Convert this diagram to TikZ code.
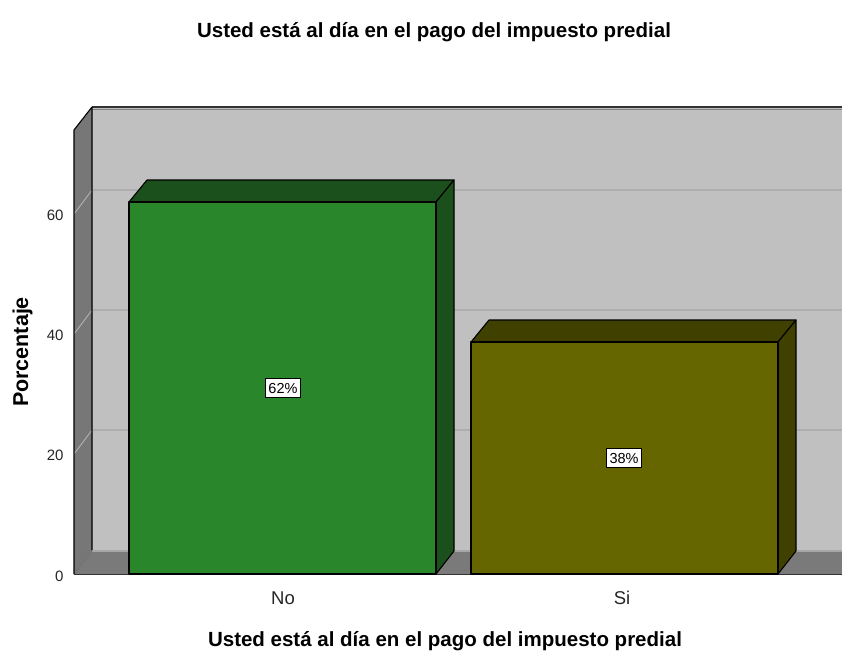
\documentclass[tikz,border=0pt]{standalone}
\usepackage{fontspec}
\setmainfont{Liberation Sans}
\definecolor{wallback}{HTML}{C0C0C0}
\definecolor{wallside}{HTML}{777777}
\definecolor{floorc}{HTML}{7A7A7A}
\definecolor{gridc}{HTML}{ADADAD}
\definecolor{nofront}{HTML}{2A862A}
\definecolor{noshade}{HTML}{1B4F1B}
\definecolor{sifront}{HTML}{666600}
\definecolor{sishade}{HTML}{404000}
\begin{document}
\begin{tikzpicture}[x=1pt,y=-1pt,
  edge/.style={draw=black,line width=1.1pt,line join=round},
  gridline/.style={draw=gridc,line width=1.2pt},
  sidegrid/.style={draw=gray!55,line width=0.8pt},
  pct/.style={draw=black,fill=white,line width=0.9pt,inner xsep=2.8pt,inner ysep=4pt,font=\fontsize{14.5}{15}\selectfont},
  tick/.style={anchor=east,font=\fontsize{15}{15}\selectfont,text=black!85},
  cat/.style={font=\fontsize{18.5}{19}\selectfont,text=black!85},
  ttl/.style={font=\bfseries\fontsize{20.5}{21}\selectfont}]
\useasboundingbox (0,0) rectangle (842,651);
\begin{scope}
\clip (0,0) rectangle (842,651);
% back wall
\fill[wallback] (92,107) rectangle (870,550);
\foreach \v in {20,40,60} {
  \draw[gridline] (92,550-6*\v) -- (870,550-6*\v);
}
\draw[draw=black!80,line width=1.4pt] (92,107) -- (870,107);
\draw[draw=gray,line width=0.8pt] (92,109) -- (870,109);
% floor
\fill[floorc] (74,574) -- (92,550) -- (870,550) -- (852,574) -- cycle;
\draw[draw=gray!70,line width=1.2pt] (92,551) -- (870,551);
\draw[draw=black!80,line width=1pt] (74,574) -- (852,574);
\draw[draw=black!60,line width=0.8pt] (74,574) -- (92,550);
% left wall
\fill[wallside] (74,130) -- (92,107) -- (92,550) -- (74,574) -- cycle;
\foreach \v in {20,40,60} {
  \draw[sidegrid] (74,574-6*\v) -- (92,550-6*\v);
}
\draw[edge] (74,574) -- (74,130) -- (92,107) -- (92,550);
% bar No
\path[edge,fill=noshade] (129,202) -- (147,180) -- (454,180) -- (436,202) -- cycle;
\path[edge,fill=noshade] (436,202) -- (454,180) -- (454,551) -- (436,574) -- cycle;
\path[edge,fill=nofront] (129,202) rectangle (436,574);
% bar Si
\path[edge,fill=sishade] (471,342) -- (489,320) -- (796,320) -- (778,342) -- cycle;
\path[edge,fill=sishade] (778,342) -- (796,320) -- (796,551) -- (778,574) -- cycle;
\path[edge,fill=sifront] (471,342) rectangle (778,574);
\end{scope}
% value labels
\node[pct] (lno) at (283,388) {62\%};
\node[pct] (lsi) at (624,458) {38\%};
% tick labels
\node[tick] (t0) at (67,576) {0};
\node[tick] (t20) at (67,455) {20};
\node[tick] (t40) at (67,335) {40};
\node[tick] (t60) at (67,215) {60};
% categories
\node[cat,anchor=base] (cno) at (283,604) {No};
\node[cat,anchor=base] (csi) at (622,604) {Si};
% titles
\node[ttl,anchor=base] (title) at (434,37) {Usted está al día en el pago del impuesto predial};
\node[ttl,anchor=base] (xtitle) at (445,646) {Usted está al día en el pago del impuesto predial};
\node[ttl,anchor=base,rotate=90,font=\bfseries\fontsize{21.5}{22}\selectfont] (ytitle) at (28,352) {Porcentaje};
\end{tikzpicture}
\end{document}
